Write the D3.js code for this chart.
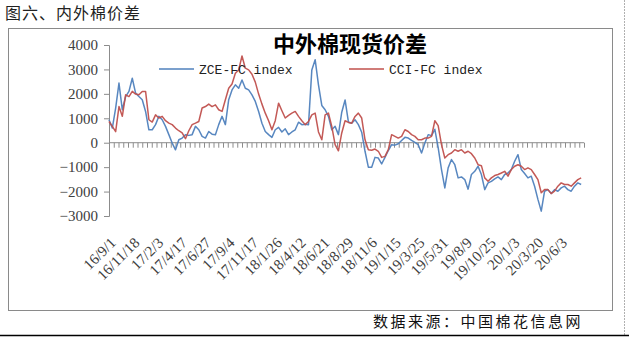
<!DOCTYPE html>
<html><head><meta charset="utf-8">
<script src="https://cdn.jsdelivr.net/npm/d3@7"></script>
<style>
html,body{margin:0;padding:0;background:#fff;}
svg{display:block;}
</style></head>
<body>
<svg id="c" width="629" height="339"></svg>
<script>
// ---- data ----
const pageTitle = "图六、内外棉价差";
const chartTitle = "中外棉现货价差";
const sourceText = "数据来源：中国棉花信息网";
const seriesNames = ["ZCE-FC index", "CCI-FC index"];
// x-axis category labels (every 50 trading days)
const tickLabels = ["16/9/1","16/11/18","17/2/3","17/4/17","17/6/27","17/9/4","17/11/17","18/1/26","18/4/12","18/6/21","18/8/29","18/11/6","19/1/15","19/3/25","19/5/31","19/8/9","19/10/25","20/1/3","20/3/20","20/6/3"];
const labelEvery = 50;        // trading days between labels
const totalDays = 1000;       // number of trading-day categories
const sampleEvery = 7;        // values below are read every 7 trading days
const yTicks = [4000,3000,2000,1000,0,-1000,-2000,-3000];
const zceFC = [940,600,1420,2440,1350,1890,2100,2640,2030,1890,1760,1280,530,530,740,1080,940,670,330,-15,-290,120,190,330,300,330,670,530,260,190,460,350,330,740,1080,740,1760,2160,2370,2230,2570,2230,2160,1960,1690,1280,800,460,330,220,530,630,440,570,330,440,530,840,740,760,740,2980,3400,2370,1525,1350,1080,530,670,330,1250,1750,850,800,940,740,430,-350,-1000,-1000,-600,-630,-870,-600,-320,-80,-100,-40,90,220,190,95,15,-80,-420,-15,330,290,550,-200,-1100,-1850,-1030,-690,-900,-1440,-1400,-1510,-1900,-1300,-1170,-965,-1300,-1920,-1645,-1580,-1480,-1400,-1510,-1300,-1240,-1100,-760,-490,-1100,-1260,-1440,-1370,-1780,-2320,-2800,-1985,-1920,-2080,-1920,-1985,-1850,-1780,-1920,-1985,-1780,-1645,-1710];
const cciFC = [870,670,450,1480,1080,1960,1890,2100,1990,1960,2100,2100,940,845,1140,1010,1080,900,800,740,600,490,400,165,490,740,800,870,1420,1480,1580,1480,1550,1350,1280,1760,2230,2400,2840,2980,3550,3050,2980,2800,2480,1990,1580,1210,900,530,900,1620,1310,1010,1120,1210,1280,1080,900,740,870,1140,1210,440,120,1140,1210,670,-80,-330,400,900,830,800,1075,1210,1010,120,-285,-310,-260,-350,-600,-560,-285,330,260,190,260,530,460,330,260,120,120,190,190,260,900,700,-80,-625,-490,-420,-285,-350,-285,-420,-350,-450,-625,-900,-940,-1440,-1580,-1440,-1345,-1300,-1240,-1170,-1370,-1100,-965,-900,-965,-1100,-1030,-1100,-1300,-1510,-2050,-1920,-1920,-2080,-1985,-1780,-1645,-1710,-1710,-1780,-1645,-1510,-1440];

// ---- drawing ----
const svg = d3.select("#c");
const axisColor = "#8c8c8c";
const textColor = "#404040";
const blue = "#4f81bd", red = "#c0504d";

// page title
svg.append("text").attr("x",5).attr("y",19)
  .attr("font-family","'Noto Sans CJK SC'").attr("font-size",16).attr("letter-spacing",1)
  .attr("fill","#222").text(pageTitle);

// frame
svg.append("rect").attr("x",8.5).attr("y",28.5).attr("width",604).attr("height",282)
  .attr("fill","none").attr("stroke","#8a8a8a").attr("stroke-width",1);
// page right edge line
svg.append("line").attr("x1",624.5).attr("x2",624.5).attr("y1",0).attr("y2",335)
  .attr("stroke","#b0b0b0").attr("stroke-width",1).attr("stroke-dasharray","2,1");
// bottom black line
svg.append("line").attr("x1",0).attr("x2",629).attr("y1",335.5).attr("y2",335.5)
  .attr("stroke","#000").attr("stroke-width",1.5);

const x = d3.scaleLinear().domain([0,totalDays]).range([109,584]);
const y = d3.scaleLinear().domain([-3000,4000]).range([216,45]);

// y axis
const yAxis = d3.axisLeft(y).tickValues(yTicks).tickSize(5).tickPadding(6)
  .tickFormat(d => d<0 ? "\u2212"+Math.abs(d) : String(d));
const gy = svg.append("g").attr("transform","translate(109,0)").call(yAxis);
gy.select(".domain").attr("stroke",axisColor);
gy.selectAll(".tick line").attr("stroke",axisColor);
gy.selectAll(".tick text").attr("font-family","'Liberation Serif'").attr("font-size",15).attr("fill",textColor);

// x axis (at zero) with minor category ticks
const tickIdx = d3.range(0,totalDays+1,10);
const xAxis = d3.axisBottom(x).tickValues(tickIdx).tickSize(5).tickFormat("");
const gx = svg.append("g").attr("transform",`translate(0,${y(0)})`).call(xAxis);
gx.select(".domain").attr("stroke",axisColor).attr("d",`M109,0H584`);
gx.selectAll(".tick line").attr("stroke",axisColor);

// x labels
svg.append("g").selectAll("text").data(tickLabels).join("text")
  .attr("transform",(d,i)=>`translate(${x(i*labelEvery)+4},${240}) rotate(-45)`)
  .attr("text-anchor","end").attr("dy","0.35em")
  .attr("font-family","'Liberation Serif'").attr("font-size",15).attr("fill",textColor)
  .text(d=>d);

// lines
const line = d3.line().x((d,i)=>x(i*sampleEvery)).y(d=>y(d));
svg.append("path").datum(zceFC).attr("d",line).attr("fill","none")
  .attr("stroke",blue).attr("stroke-width",1.5).attr("stroke-linejoin","round").attr("opacity",0.95);
svg.append("path").datum(cciFC).attr("d",line).attr("fill","none")
  .attr("stroke",red).attr("stroke-width",1.5).attr("stroke-linejoin","round").attr("opacity",0.95);

// chart title
svg.append("text").attr("x",350).attr("y",52).attr("text-anchor","middle")
  .attr("font-family","'Noto Sans CJK SC'").attr("font-weight","bold").attr("font-size",22)
  .attr("fill","#000").text(chartTitle);

// legend
const leg = [{n:seriesNames[0],c:blue,x:159},{n:seriesNames[1],c:red,x:349}];
const lg = svg.append("g").selectAll("g").data(leg).join("g")
  .attr("transform",d=>`translate(${d.x},69)`);
lg.append("line").attr("x1",0).attr("x2",35).attr("stroke",d=>d.c).attr("stroke-width",1.5);
lg.append("text").attr("x",40).attr("dy","0.35em")
  .attr("font-family","'Liberation Mono'").attr("font-size",13).attr("fill","#222").text(d=>d.n);

// source
svg.append("text").attr("x",583).attr("y",327).attr("text-anchor","end")
  .attr("font-family","'Noto Sans CJK SC'").attr("font-size",15).attr("letter-spacing",2.5)
  .attr("fill","#111").text(sourceText);
</script>
</body></html>
